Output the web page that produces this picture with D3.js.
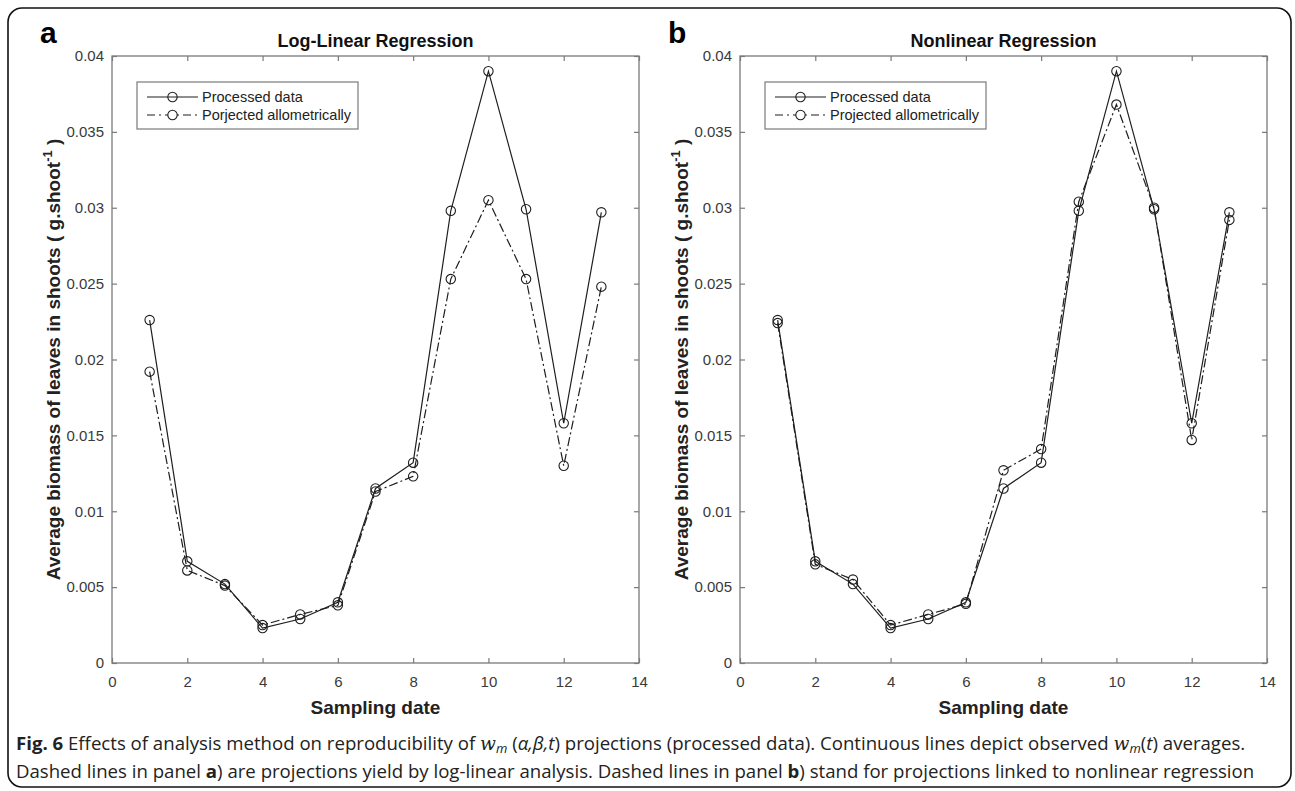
<!DOCTYPE html>
<html lang="en">
<head>
<meta charset="UTF-8">
<title>Fig. 6</title>
<script src="https://cdn.jsdelivr.net/npm/d3@7"></script>
<style>
  body { margin: 0; background: #fff; }
</style>
</head>
<body>
<svg width="1295" height="791"></svg>
<script>
    // values
    const dates = [1, 2, 3, 4, 5, 6, 7, 8, 9, 10, 11, 12, 13];
    const processed = [0.0226, 0.0067, 0.0052, 0.0023, 0.0029, 0.0040, 0.0115, 0.0132, 0.0298, 0.0390, 0.0299, 0.0158, 0.0297];
    const projLogLinear = [0.0192, 0.0061, 0.0051, 0.0025, 0.0032, 0.0038, 0.0113, 0.0123, 0.0253, 0.0305, 0.0253, 0.0130, 0.0248];
    const projNonlinear = [0.0224, 0.0065, 0.0055, 0.0025, 0.0032, 0.0039, 0.0127, 0.0141, 0.0304, 0.0368, 0.0300, 0.0147, 0.0292];
    const xTicks = [0, 2, 4, 6, 8, 10, 12, 14];
    const yTicks = [0, 0.005, 0.01, 0.015, 0.02, 0.025, 0.03, 0.035, 0.04];
    const panelLabels = ["a", "b"];
    const panelTitles = ["Log-Linear Regression", "Nonlinear Regression"];
    const legendNames = [["Processed data", "Porjected allometrically"], ["Processed data", "Projected allometrically"]];

    const svg = d3.select("svg");
    const plotW = 527, plotTop = 56, plotBottom = 663;
    const lefts = [112, 740];
    const axisGray = "#7a7a7a";
    const lineColor = "#1e1e1e";
    const dashDot = "9,3,2,3";
    const sans = "'Liberation Sans', Arial, sans-serif";

    // outer rounded frame
    svg.append("rect")
        .attr("x", 8).attr("y", 8)
        .attr("width", 1283).attr("height", 779)
        .attr("rx", 14)
        .attr("fill", "none")
        .attr("stroke", "#111")
        .attr("stroke-width", 1.6);

    function drawPanel(i) {
        const left = lefts[i];
        const proj = i === 0 ? projLogLinear : projNonlinear;
        const x = d3.scaleLinear().domain([0, 14]).range([left, left + plotW]);
        const y = d3.scaleLinear().domain([0, 0.04]).range([plotBottom, plotTop]);
        const g = svg.append("g");

        // box
        g.append("rect")
            .attr("x", x(0)).attr("y", y(0.04))
            .attr("width", x(14) - x(0)).attr("height", y(0) - y(0.04))
            .attr("fill", "none").attr("stroke", axisGray).attr("stroke-width", 1.3);

        const fmt = d => d === 0 ? "0" : String(+d.toFixed(3));

        const bottomAx = g.append("g").attr("transform", `translate(0,${plotBottom})`)
            .call(d3.axisBottom(x).tickValues(xTicks).tickSizeInner(-5).tickSizeOuter(0).tickPadding(13));
        const topAx = g.append("g").attr("transform", `translate(0,${plotTop})`)
            .call(d3.axisTop(x).tickValues(xTicks).tickSizeInner(-5).tickSizeOuter(0).tickFormat(""));
        const leftAx = g.append("g").attr("transform", `translate(${left},0)`)
            .call(d3.axisLeft(y).tickValues(yTicks).tickSizeInner(-5).tickSizeOuter(0).tickPadding(8).tickFormat(fmt));
        const rightAx = g.append("g").attr("transform", `translate(${left + plotW},0)`)
            .call(d3.axisRight(y).tickValues(yTicks).tickSizeInner(-5).tickSizeOuter(0).tickFormat(""));

        [bottomAx, topAx, leftAx, rightAx].forEach(ax => {
            ax.select(".domain").remove();
            ax.selectAll(".tick line").attr("stroke", axisGray).attr("stroke-width", 1.2);
            ax.selectAll("text")
                .attr("fill", "#3a3a3a")
                .style("font-family", sans)
                .style("font-size", "15px");
        });

        // series: projections (dash-dot) then processed data (solid)
        const line = d3.line().x((d, k) => x(dates[k])).y(d => y(d));
        const series = [
            {vals: proj, dash: dashDot},
            {vals: processed, dash: null}
        ];
        series.forEach(s => {
            g.append("path")
                .attr("d", line(s.vals))
                .attr("fill", "none")
                .attr("stroke", lineColor)
                .attr("stroke-width", 1.2)
                .attr("stroke-dasharray", s.dash);
            g.selectAll(null).data(s.vals).enter().append("circle")
                .attr("cx", (d, k) => x(dates[k]))
                .attr("cy", d => y(d))
                .attr("r", 4.7)
                .attr("fill", "none")
                .attr("stroke", lineColor)
                .attr("stroke-width", 1.1);
        });

        // legend
        const leg = g.append("g").attr("transform", `translate(${left + 25},82)`);
        leg.append("rect").attr("width", 221).attr("height", 47)
            .attr("fill", "#fff").attr("stroke", axisGray).attr("stroke-width", 1.2);
        legendNames[i].forEach((name, k) => {
            const ry = 15 + k * 18;
            leg.append("line").attr("x1", 10).attr("x2", 61).attr("y1", ry).attr("y2", ry)
                .attr("stroke", lineColor).attr("stroke-width", 1.2)
                .attr("stroke-dasharray", k === 1 ? "8,4,2,4" : null);
            leg.append("circle").attr("cx", 35.5).attr("cy", ry).attr("r", 4.7)
                .attr("fill", k === 1 ? "#fff" : "none").attr("stroke", lineColor).attr("stroke-width", 1.1);
            leg.append("text").attr("x", 65).attr("y", ry + 5)
                .attr("fill", "#222")
                .style("font-family", sans)
                .style("font-size", "14.5px")
                .text(name);
        });

        // title
        g.append("text")
            .attr("x", (x(0) + x(14)) / 2).attr("y", 47)
            .attr("text-anchor", "middle")
            .style("font-family", sans)
            .style("font-size", "18px").style("font-weight", "bold")
            .attr("fill", "#111")
            .text(panelTitles[i]);

        // panel letter
        g.append("text")
            .attr("x", left - 72).attr("y", 43)
            .style("font-family", sans)
            .style("font-size", "30px").style("font-weight", "bold")
            .attr("fill", "#000")
            .text(panelLabels[i]);

        // x label
        g.append("text")
            .attr("x", (x(0) + x(14)) / 2).attr("y", 714)
            .attr("text-anchor", "middle")
            .style("font-family", sans)
            .style("font-size", "19px").style("font-weight", "bold")
            .attr("fill", "#222")
            .text("Sampling date");

        // y label
        const yl = g.append("text")
            .attr("transform", `translate(${left - 52},${(plotTop + plotBottom) / 2}) rotate(-90)`)
            .attr("text-anchor", "middle")
            .style("font-family", sans)
            .style("font-size", "19px").style("font-weight", "bold")
            .attr("fill", "#222");
        yl.append("tspan").text("Average biomass of leaves in shoots ( g.shoot");
        yl.append("tspan").attr("dy", -8).style("font-size", "13px").text("-1");
        yl.append("tspan").attr("dy", 8).text(" )");
    }

    drawPanel(0);
    drawPanel(1);

    // caption, two lines, sized so the first line spans the frame
    const cap = svg.append("g").style("font-family", "'Open Sans', 'Noto Sans', sans-serif")
        .style("font-size", "17px").attr("fill", "#222");
    const serifW = "'DejaVu Serif', 'Liberation Serif', serif";

    function wm(t) {
        t.append("tspan").style("font-style", "italic").style("font-family", serifW).text("w");
        t.append("tspan").style("font-style", "italic").attr("dy", 3).style("font-size", "0.7em").text("m");
    }

    const c1 = cap.append("text").attr("x", 16).attr("y", 750);
    c1.append("tspan").style("font-weight", "bold").text("Fig. 6");
    c1.append("tspan").text(" Effects of analysis method on reproducibility of ");
    wm(c1);
    c1.append("tspan").attr("dy", -3).text(" (");
    c1.append("tspan").style("font-style", "italic").text("α,β,t");
    c1.append("tspan").text(") projections (processed data). Continuous lines depict observed ");
    wm(c1);
    c1.append("tspan").attr("dy", -3).text("(");
    c1.append("tspan").style("font-style", "italic").text("t");
    c1.append("tspan").text(") averages.");

    const c2 = cap.append("text").attr("x", 16).attr("y", 778);
    c2.append("tspan").text("Dashed lines in panel ");
    c2.append("tspan").style("font-weight", "bold").text("a");
    c2.append("tspan").text(") are projections yield by log-linear analysis. Dashed lines in panel ");
    c2.append("tspan").style("font-weight", "bold").text("b");
    c2.append("tspan").text(") stand for projections linked to nonlinear regression");

    const w1 = c1.node().getComputedTextLength();
    if (w1 > 0) cap.style("font-size", (17 * 1230 / w1).toFixed(2) + "px");
</script>
</body>
</html>
